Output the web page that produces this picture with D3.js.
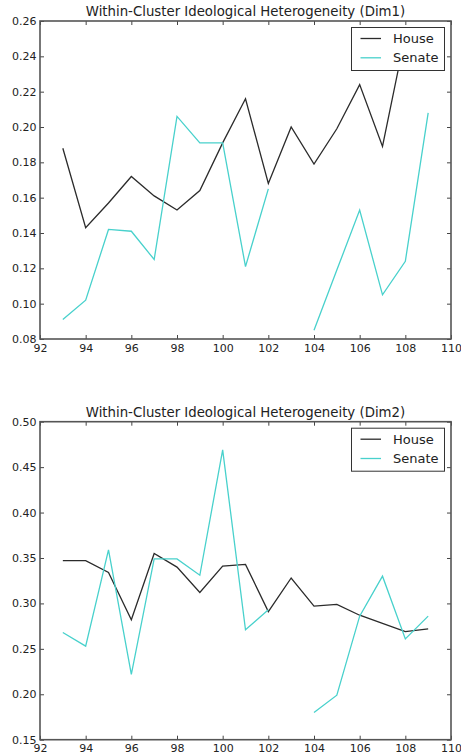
<!DOCTYPE html>
<html>
<head>
<meta charset="utf-8">
<script src="https://cdn.jsdelivr.net/npm/d3@7"></script>
<style>
body { margin: 0; background: #fff; }
svg text { font-family: "DejaVu Sans", sans-serif; fill: #222; }
</style>
</head>
<body>
<div id="chart"></div>
<script>
// congresses on the x axis
var congress = [93, 94, 95, 96, 97, 98, 99, 100, 101, 102, 103, 104, 105, 106, 107, 108, 109];

// Dim1 values (null = missing)
var houseDim1  = [0.188, 0.143, 0.157, 0.172, 0.161, 0.153, 0.164, 0.191, 0.216, 0.168, 0.200, 0.179, 0.199, 0.224, 0.189, 0.252, 0.245];
var senateDim1 = [0.091, 0.102, 0.142, 0.141, 0.125, 0.206, 0.191, 0.191, 0.121, 0.165, null, 0.085, 0.119, 0.153, 0.105, 0.124, 0.208];

// Dim2 values
var houseDim2  = [0.347, 0.347, 0.334, 0.282, 0.355, 0.340, 0.312, 0.341, 0.343, 0.291, 0.328, 0.297, 0.299, 0.287, 0.278, 0.269, 0.272];
var senateDim2 = [0.268, 0.253, 0.359, 0.222, 0.349, 0.349, 0.331, 0.469, 0.271, 0.293, null, 0.180, 0.199, 0.286, 0.330, 0.261, 0.286];

// tick labels
var xTicks = [92, 94, 96, 98, 100, 102, 104, 106, 108, 110];
var yTicks1 = [0.08, 0.10, 0.12, 0.14, 0.16, 0.18, 0.20, 0.22, 0.24, 0.26];
var yTicks2 = [0.15, 0.20, 0.25, 0.30, 0.35, 0.40, 0.45, 0.50];

var seriesNames = ["House", "Senate"];
var colors = ["#2b2b2b", "#48d1cc"];

var svg = d3.select("#chart")
  .append("svg")
  .attr("width", 461)
  .attr("height", 755);

function drawPanel(top, bottom, yTicks, yDomain, fmt, house, senate, title) {
  var x = d3.scaleLinear().domain([92, 110]).range([40, 451]);
  var y = d3.scaleLinear().domain(yDomain).range([bottom, top]);

  var g = svg.append("g");

  // title
  g.append("text")
    .attr("x", (40 + 451) / 2)
    .attr("y", top - 5)
    .attr("text-anchor", "middle")
    .style("font-size", "13.3px")
    .text(title);

  // clip for lines
  var clipId = "clip" + Math.round(top);
  g.append("clipPath").attr("id", clipId)
    .append("rect")
    .attr("x", 40).attr("y", top)
    .attr("width", 411).attr("height", bottom - top);

  // lines
  var line = d3.line()
    .defined(function(d) { return d[1] != null; })
    .x(function(d) { return x(d[0]); })
    .y(function(d) { return y(d[1]); });

  [house, senate].forEach(function(vals, i) {
    g.append("path")
      .datum(congress.map(function(c, j) { return [c, vals[j]]; }))
      .attr("clip-path", "url(#" + clipId + ")")
      .attr("fill", "none")
      .attr("stroke", colors[i])
      .attr("stroke-width", 1.3)
      .attr("d", line);
  });

  // axes (matplotlib classic: ticks inside on all sides)
  var bottomAxis = g.append("g")
    .attr("transform", "translate(0," + bottom + ")")
    .call(d3.axisBottom(x).tickValues(xTicks).tickSize(-4).tickPadding(5).tickFormat(d3.format("d")));
  var topAxis = g.append("g")
    .attr("transform", "translate(0," + top + ")")
    .call(d3.axisTop(x).tickValues(xTicks).tickSize(-4).tickFormat(""));
  var leftAxis = g.append("g")
    .attr("transform", "translate(40,0)")
    .call(d3.axisLeft(y).tickValues(yTicks).tickSize(-4).tickPadding(3.5).tickFormat(d3.format(fmt)));
  var rightAxis = g.append("g")
    .attr("transform", "translate(451,0)")
    .call(d3.axisRight(y).tickValues(yTicks).tickSize(-4).tickFormat(""));

  [bottomAxis, topAxis, leftAxis, rightAxis].forEach(function(a) {
    a.select(".domain").remove();
    a.selectAll(".tick line").attr("stroke", "#444").attr("stroke-width", 1);
    a.selectAll(".tick text").style("font-size", "11px").style("fill", "#222");
  });

  // frame
  g.append("rect")
    .attr("x", 40).attr("y", top)
    .attr("width", 411).attr("height", bottom - top)
    .attr("fill", "none")
    .attr("stroke", "#555")
    .attr("stroke-width", 1.6);

  // legend
  var legend = g.append("g");
  legend.append("rect")
    .attr("x", 351.5).attr("y", top + 6.5)
    .attr("width", 93).attr("height", 43)
    .attr("fill", "#fff")
    .attr("stroke", "#333")
    .attr("stroke-width", 1);
  seriesNames.forEach(function(name, i) {
    var ly = top + 17.5 + i * 19.3;
    legend.append("line")
      .attr("x1", 360.5).attr("x2", 381)
      .attr("y1", ly).attr("y2", ly)
      .attr("stroke", colors[i])
      .attr("stroke-width", 1.3);
    legend.append("text")
      .attr("x", 393)
      .attr("y", ly)
      .attr("dy", "0.35em")
      .style("font-size", "13px")
      .text(name);
  });
}

drawPanel(21, 339, yTicks1, [0.08, 0.26], ".2f", houseDim1, senateDim1,
  "Within-Cluster Ideological Heterogeneity (Dim1)");
drawPanel(421.7, 739.7, yTicks2, [0.15, 0.50], ".2f", houseDim2, senateDim2,
  "Within-Cluster Ideological Heterogeneity (Dim2)");
</script>
</body>
</html>
